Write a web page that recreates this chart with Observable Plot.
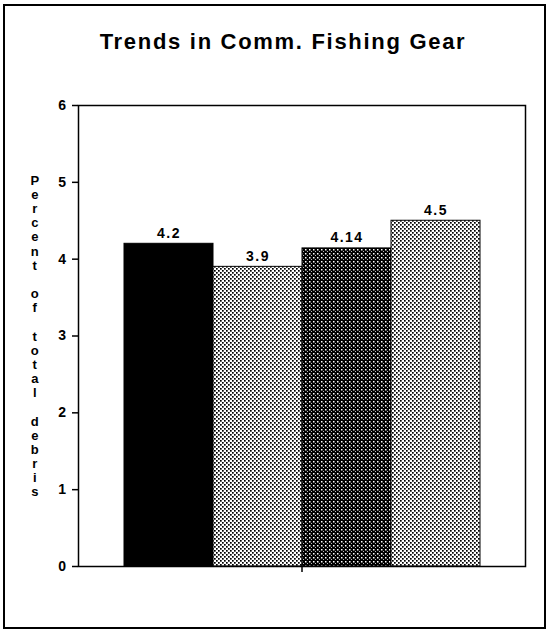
<!DOCTYPE html>
<html><head><meta charset="utf-8">
<script src="https://cdn.jsdelivr.net/npm/d3@7"></script>
<script src="https://cdn.jsdelivr.net/npm/@observablehq/plot@0.6"></script>
<style>
body{margin:0;background:#fff;}
#wrap{position:relative;width:549px;height:632px;overflow:hidden;background:#fff;}
#border{position:absolute;left:3px;top:4px;width:543px;height:625px;border:2px solid #000;box-sizing:border-box;}
#title{position:absolute;left:0;width:566px;top:29px;text-align:center;font:bold 22px "Liberation Sans",Arial,sans-serif;letter-spacing:1.7px;color:#000;}
#chart{position:absolute;left:0;top:0;}
#chart svg text{letter-spacing:1.5px;}
</style></head><body>
<div id="wrap"><div id="border"></div><div id="title">Trends in Comm. Fishing Gear</div><div id="chart"></div></div>
<script>
const group = "Comm. Fishing Gear";
const series = ["Series 1", "Series 2", "Series 3", "Series 4"];
const values = [4.2, 3.9, 4.14, 4.5];
const valueLabels = ["4.2", "3.9", "4.14", "4.5"];
const fills = ["#000", "url(#light)", "url(#dark)", "url(#light)"];
const yTicks = [0, 1, 2, 3, 4, 5, 6];
const yLabel = "Percent of total debris";

const data = series.map((s, i) => ({group, series: s, value: values[i], label: valueLabels[i], fill: fills[i]}));

const chart = Plot.plot({
  width: 549, height: 632,
  marginLeft: 78, marginRight: 24, marginTop: 105, marginBottom: 66,
  style: {fontFamily: "'Liberation Sans', Arial, sans-serif", fontWeight: "bold", color: "#000", background: "transparent", overflow: "visible"},
  fx: {domain: [group], padding: 0, label: null},
  x: {domain: series, paddingInner: 0, paddingOuter: 0.5, axis: null},
  y: {domain: [0, 6], label: null},
  color: {type: "identity"},
  marks: [
    Plot.barY(data, {fx: "group", x: "series", y: "value", fill: "fill", stroke: "#000", strokeWidth: 1}),
    Plot.text(data, {fx: "group", x: "series", y: "value", text: "label", lineAnchor: "bottom", dy: -6, fontSize: 14, fontWeight: "bold", fill: "#000"}),
    Plot.frame({stroke: "#000", strokeWidth: 1.5}),
    Plot.axisY({ticks: yTicks, tickFormat: d3.format("d"), tickSize: 6, tickPadding: 5, fontSize: 14, fontWeight: "bold", label: null, strokeWidth: 1.5}),
    Plot.axisFx({anchor: "bottom", tickSize: 6, tickFormat: () => "", label: null, strokeWidth: 1.5}),
    Plot.text([yLabel], {frameAnchor: "left", dx: -43, textAnchor: "middle", text: d => d.split("").join("\n"), lineHeight: 1.09, fontSize: 13, fontWeight: "bold", fill: "#000"})
  ]
});

const defs = d3.select(chart).insert("defs", ":first-child");
const light = defs.append("pattern").attr("id", "light").attr("patternUnits", "userSpaceOnUse").attr("width", 4).attr("height", 4);
light.append("rect").attr("width", 4).attr("height", 4).attr("fill", "#fff");
light.append("rect").attr("x", 0).attr("y", 0).attr("width", 1.7).attr("height", 1.7).attr("fill", "#000");
light.append("rect").attr("x", 2).attr("y", 2).attr("width", 1.7).attr("height", 1.7).attr("fill", "#000");
const dark = defs.append("pattern").attr("id", "dark").attr("patternUnits", "userSpaceOnUse").attr("width", 4).attr("height", 4);
dark.append("rect").attr("width", 4).attr("height", 4).attr("fill", "#000");
dark.append("rect").attr("x", 1).attr("y", 1).attr("width", 1.5).attr("height", 1.5).attr("fill", "#fff");
dark.append("rect").attr("x", 3).attr("y", 3).attr("width", 1).attr("height", 1).attr("fill", "#bbb");

document.getElementById("chart").appendChild(chart);
</script>
</body></html>
